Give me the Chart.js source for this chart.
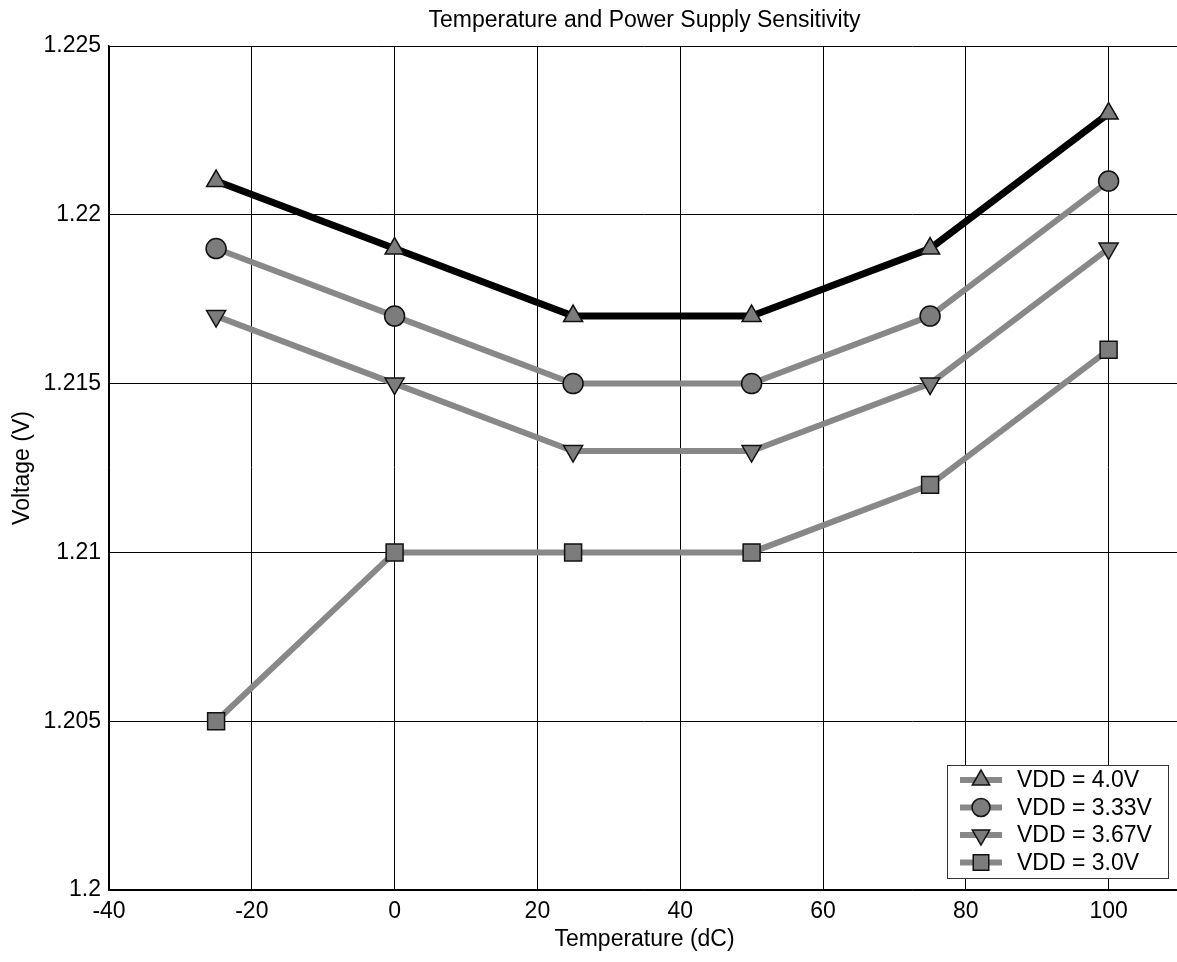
<!DOCTYPE html>
<html>
<head>
<meta charset="utf-8">
<title>Temperature and Power Supply Sensitivity</title>
<script src="https://cdn.jsdelivr.net/npm/chart.js@4/dist/chart.umd.min.js"></script>
<style>
  html, body { margin: 0; padding: 0; background: #fff; overflow: hidden; }
  #wrap { width: 1180px; height: 962px; }
  canvas { display: block; }
</style>
</head>
<body>
<div id="wrap"><canvas id="chart" width="1180" height="962"></canvas></div>
<script>
// Temperatures (°C) at which the reference voltage was measured
const temperatures = [-25, 0, 25, 50, 75, 100];

// Reference output voltage (V) for each supply voltage
const vdd40  = [1.221, 1.219, 1.217, 1.217, 1.219, 1.223];
const vdd333 = [1.219, 1.217, 1.215, 1.215, 1.217, 1.221];
const vdd367 = [1.217, 1.215, 1.213, 1.213, 1.215, 1.219];
const vdd30  = [1.205, 1.210, 1.210, 1.210, 1.212, 1.216];

const seriesLabels = ['VDD = 4.0V', 'VDD = 3.33V', 'VDD = 3.67V', 'VDD = 3.0V'];

// Axis ticks
const xTicks = [-40, -20, 0, 20, 40, 60, 80, 100];
const yTicks = [1.2, 1.205, 1.21, 1.215, 1.22, 1.225];
const yTickLabels = ['1.2', '1.205', '1.21', '1.215', '1.22', '1.225'];

const FONT = "'Liberation Sans', Arial, Helvetica, sans-serif";
const GRAY = '#888888';

function points(values) {
  return temperatures.map((t, i) => ({ x: t, y: values[i] }));
}

const styles = [
  { line: '#000000', width: 7, pointStyle: 'triangle', radius: 11, rotation: 0 },
  { line: GRAY, width: 6, pointStyle: 'circle', radius: 10, rotation: 0 },
  { line: GRAY, width: 6, pointStyle: 'triangle', radius: 11, rotation: 180 },
  { line: GRAY, width: 6, pointStyle: 'rect', radius: 12, rotation: 0 }
];

const seriesValues = [vdd40, vdd333, vdd367, vdd30];

const datasets = seriesValues.map((vals, i) => ({
  label: seriesLabels[i],
  data: points(vals),
  xAxisID: 'x',
  yAxisID: 'y',
  borderColor: styles[i].line,
  borderWidth: styles[i].width,
  pointStyle: styles[i].pointStyle,
  pointRadius: styles[i].radius,
  pointRotation: styles[i].rotation,
  pointBackgroundColor: '#7c7c7c',
  pointBorderColor: '#111111',
  pointBorderWidth: 1.5,
  tension: 0,
  fill: false
}));

// Marker used in the legend box, same look as the plotted points
function legendMarker(ctx, ds, x, y) {
  ctx.save();
  ctx.fillStyle = '#7c7c7c';
  ctx.strokeStyle = '#111111';
  ctx.lineWidth = 1.5;
  Chart.helpers.drawPoint(ctx, {
    pointStyle: ds.pointStyle,
    radius: ds.pointRadius - 1,
    rotation: ds.pointRotation,
    borderWidth: 1.5
  }, x, y);
  ctx.restore();
}

// Boxed legend in the lower-right corner of the plot area
const boxLegend = {
  id: 'boxLegend',
  afterDraw(chart) {
    const ctx = chart.ctx;
    const x0 = 947, y0 = 765, w = 221, h = 113;
    ctx.save();
    ctx.fillStyle = '#ffffff';
    ctx.fillRect(x0, y0, w, h);
    ctx.strokeStyle = '#333333';
    ctx.lineWidth = 1;
    ctx.strokeRect(x0 + 0.5, y0 + 0.5, w, h);
    ctx.font = '23px ' + FONT;
    ctx.textBaseline = 'middle';
    ctx.textAlign = 'left';
    chart.data.datasets.forEach((ds, i) => {
      const cy = y0 + 15 + i * 27.5;
      ctx.strokeStyle = GRAY;
      ctx.lineWidth = 6;
      ctx.beginPath();
      ctx.moveTo(x0 + 13, cy);
      ctx.lineTo(x0 + 55, cy);
      ctx.stroke();
      legendMarker(ctx, ds, x0 + 34, cy);
      ctx.fillStyle = '#000';
      ctx.fillText(ds.label, x0 + 70, cy + 1);
    });
    ctx.restore();
  }
};

new Chart(document.getElementById('chart'), {
  type: 'line',
  data: { datasets },
  options: {
    responsive: false,
    animation: false,
    layout: { autoPadding: false, padding: 0 },
    plugins: {
      legend: { display: false },
      tooltip: { enabled: false },
      title: { display: false }
    },
    scales: {
      // Top axis only carries the plot title, centred over the plot area
      top: {
        type: 'linear',
        position: 'top',
        min: -40,
        max: 110,
        afterFit(scale) { scale.height = 46; },
        ticks: { display: false },
        grid: { display: false, drawTicks: false },
        border: { display: false },
        title: {
          display: true,
          text: 'Temperature and Power Supply Sensitivity',
          color: '#000',
          font: { family: FONT, size: 23, weight: 'normal' },
          padding: { top: 7, bottom: 0 }
        }
      },
      x: {
        type: 'linear',
        position: 'bottom',
        min: -40,
        max: 110,
        afterBuildTicks(scale) {
          scale.ticks = xTicks.map(v => ({ value: v }));
        },
        afterFit(scale) { scale.height = 72; },
        ticks: {
          color: '#000',
          font: { family: FONT, size: 23 },
          padding: 8,
          maxRotation: 0,
          autoSkip: false,
          callback: v => String(v)
        },
        grid: { color: '#000', lineWidth: 1, drawTicks: false },
        border: { color: '#000', width: 1.5 },
        title: {
          display: true,
          text: 'Temperature (dC)',
          color: '#000',
          font: { family: FONT, size: 23 },
          padding: { top: 0, bottom: 9 }
        }
      },
      y: {
        type: 'linear',
        min: 1.2,
        max: 1.225,
        afterBuildTicks(scale) {
          scale.ticks = yTicks.map(v => ({ value: v }));
        },
        afterFit(scale) { scale.width = 109; },
        ticks: {
          color: '#000',
          font: { family: FONT, size: 23 },
          padding: 8,
          autoSkip: false,
          callback: (v, i) => yTickLabels[i]
        },
        grid: { color: '#000', lineWidth: 1, drawTicks: false },
        border: { color: '#000', width: 1.5 },
        title: {
          display: true,
          text: 'Voltage (V)',
          color: '#000',
          font: { family: FONT, size: 23 },
          padding: { top: 9, bottom: 0 }
        }
      }
    }
  },
  plugins: [boxLegend]
});
</script>
</body>
</html>
